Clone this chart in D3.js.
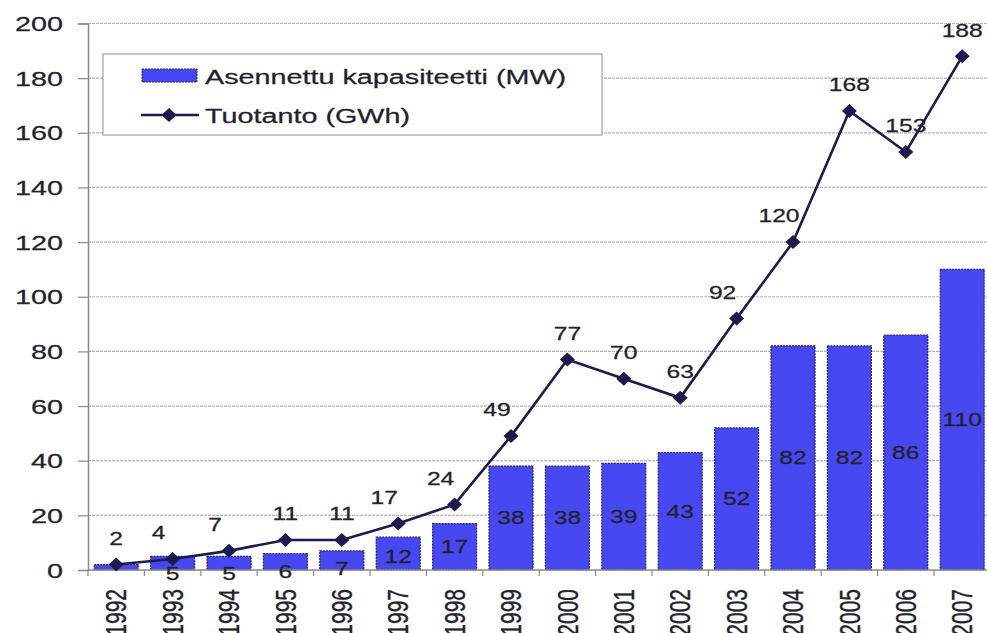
<!DOCTYPE html>
<html>
<head>
<meta charset="utf-8">
<script src="https://cdn.jsdelivr.net/npm/d3@7"></script>
<style>
  html, body { margin: 0; padding: 0; background: #fff; overflow: hidden; }
  svg { display: block; font-family: Arial, "Liberation Sans", sans-serif; }
</style>
</head>
<body>
<svg id="chart" width="987" height="633"></svg>
<script>
// Tuulivoima Suomessa: asennettu kapasiteetti ja tuotanto
const years = ["1992","1993","1994","1995","1996","1997","1998","1999",
               "2000","2001","2002","2003","2004","2005","2006","2007"];
const capacityMW = [2, 5, 5, 6, 7, 12, 17, 38, 38, 39, 43, 52, 82, 82, 86, 110];
const productionGWh = [2, 4, 7, 11, 11, 17, 24, 49, 77, 70, 63, 92, 120, 168, 153, 188];
const yTicks = [0, 20, 40, 60, 80, 100, 120, 140, 160, 180, 200];
const seriesNames = ["Asennettu kapasiteetti (MW)", "Tuotanto (GWh)"];

const barFill = "#4848f2";
const barEdge = "#26265e";
const lineColor = "#1b1b4d";
const textColor = "#22222c";
const sx = 1.37;   // wide glyph stretch used for all text

const svg = d3.select("#chart");
const plotLeft = 88, plotRight = 990.4, plotTop = 23.5, plotBottom = 570;

const x = d3.scaleBand().domain(years).range([plotLeft, plotRight])
  .paddingInner(0.22).paddingOuter(0.11);
const y = d3.scaleLinear().domain([0, 200]).range([plotBottom, plotTop]);

// stretched text helper
function label(g, px, py, txt, size, anchor, rot) {
  return g.append("text")
    .attr("transform", `translate(${px},${py}) scale(${sx},1)` + (rot ? ` rotate(${rot})` : ""))
    .attr("text-anchor", anchor)
    .attr("dominant-baseline", "central")
    .attr("font-size", size)
    .attr("fill", textColor)
    .attr("stroke", textColor)
    .attr("stroke-width", 0.25)
    .text(txt);
}

// gridlines
svg.append("g").selectAll("line")
  .data(yTicks.filter(t => t > 0))
  .join("line")
  .attr("x1", plotLeft).attr("x2", 987)
  .attr("y1", d => y(d)).attr("y2", d => y(d))
  .attr("stroke", "#b4b4b4").attr("stroke-width", 1.2)
  .attr("stroke-dasharray", "3,1");

// y axis
const yAxis = svg.append("g").attr("transform", `translate(${plotLeft},0)`)
  .call(d3.axisLeft(y).tickValues(yTicks).tickSize(10).tickFormat(""));
yAxis.select(".domain").attr("stroke", "#8a8a8a").attr("stroke-width", 1.5);
yAxis.selectAll(".tick line").attr("stroke", "#8a8a8a").attr("stroke-width", 1.2);
const yl = svg.append("g");
yTicks.forEach(t => label(yl, 63, y(t), String(t), 21, "end"));

// bars
svg.append("g").selectAll("rect")
  .data(years.map((yr, i) => ({ yr, v: capacityMW[i] })))
  .join("rect")
  .attr("x", d => x(d.yr))
  .attr("width", x.bandwidth())
  .attr("y", d => y(d.v))
  .attr("height", d => y(0) - y(d.v))
  .attr("fill", barFill)
  .attr("stroke", barEdge)
  .attr("stroke-width", 1.2)
  .attr("stroke-dasharray", "2,1");

// x axis
const xAxis = svg.append("g").attr("transform", `translate(0,${plotBottom})`);
xAxis.append("line").attr("x1", plotLeft).attr("x2", 987).attr("y1", 0).attr("y2", 0)
  .attr("stroke", "#8a8a8a").attr("stroke-width", 1.5);
xAxis.selectAll("line.tk")
  .data(years.map(yr => x(yr) - x.step() * x.paddingInner() / 2).concat([plotRight]))
  .join("line").attr("class", "tk")
  .attr("x1", d => d).attr("x2", d => d).attr("y1", 0).attr("y2", 6)
  .attr("stroke", "#8a8a8a").attr("stroke-width", 1.2);
const xl = svg.append("g");
years.forEach(yr => label(xl, x(yr) + x.bandwidth() / 2, 589, yr, 21, "end", -90));

// bar value labels (centred, nudged down for very short bars)
const bl = svg.append("g");
capacityMW.forEach((v, i) => {
  if (i === 0) return;
  const cy = y(v / 2) + (v < 15 ? (15 - v) * 1.1 : 0);
  label(bl, x(years[i]) + x.bandwidth() / 2, cy, String(v), 18, "middle");
});

// production line
const pts = years.map((yr, i) => [x(yr) + x.bandwidth() / 2, y(productionGWh[i])]);
svg.append("path")
  .attr("d", d3.line()(pts))
  .attr("fill", "none").attr("stroke", lineColor).attr("stroke-width", 2.6);
const diamond = "M0,-7 L7.5,0 L0,7 L-7.5,0 Z";
svg.append("g").selectAll("path")
  .data(pts).join("path")
  .attr("transform", d => `translate(${d[0]},${d[1]})`)
  .attr("d", diamond).attr("fill", lineColor);

// line value labels, pushed left where the curve keeps rising
const ll = svg.append("g");
productionGWh.forEach((v, i) => {
  const prev = productionGWh[i - 1], next = productionGWh[i + 1];
  const rising = prev !== undefined && next !== undefined && prev < v && v < next;
  label(ll, pts[i][0] + (rising ? -14 : 0), pts[i][1] - 26, String(v), 18, "middle");
});

// legend
const lg = svg.append("g");
lg.append("rect").attr("x", 103).attr("y", 54).attr("width", 499).attr("height", 81)
  .attr("fill", "#fff").attr("stroke", "#a0a0a0").attr("stroke-width", 1.2);
lg.append("rect").attr("x", 142).attr("y", 69).attr("width", 55).attr("height", 13)
  .attr("fill", barFill).attr("stroke", barEdge).attr("stroke-width", 1)
  .attr("stroke-dasharray", "2,1");
label(lg, 205, 76, seriesNames[0], 21, "start");
lg.append("line").attr("x1", 141).attr("x2", 199).attr("y1", 115).attr("y2", 115)
  .attr("stroke", lineColor).attr("stroke-width", 2.6);
lg.append("path").attr("transform", "translate(169,115)").attr("d", diamond).attr("fill", lineColor);
label(lg, 205, 115, seriesNames[1], 21, "start");
</script>
</body>
</html>
